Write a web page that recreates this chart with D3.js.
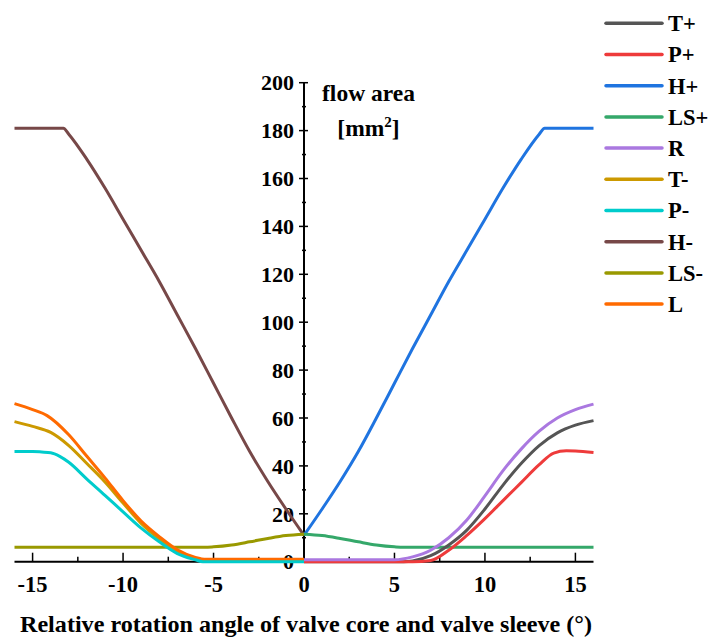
<!DOCTYPE html>
<html>
<head>
<meta charset="utf-8">
<script src="https://cdn.jsdelivr.net/npm/d3@7"></script>
<style>
  body { margin: 0; background: #fff; }
</style>
</head>
<body>
<svg id="chart" width="709" height="638" style="font-family: 'Liberation Serif', 'Times New Roman', serif; font-weight: bold;"></svg>
<script>
// flow area [mm2] vs rotation angle as [angle, area]
var T_plus  = [[0,0],[5.5,0],[6,0.3],[7,2.5],[8,7],[9,13.2],[10,22],[11,32],[12,41],[13,48.5],[14,53.8],[15,57],[16,58.9]];
var P_plus  = [[0,0],[6,0],[7,0.5],[8,4.8],[9,11],[10,18],[11,25.5],[12,33],[13,40.5],[13.8,45.3],[14.5,46.3],[15,46.2],[16,45.6]];
var H_plus  = [[0,11],[1,22],[2,33.5],[3,46],[4,60],[5,74.5],[6,89],[7,103],[8,117],[9,130],[10,143],[11,156],[12,168],[13,178.5],[13.3,181],[16,181]];
var LS_plus = [[0,11.5],[1,10.9],[2,9.7],[3,8.3],[4,7],[5,6.2],[5.5,6],[16,6]];
var R       = [[0,0.8],[5,0.8],[6,2],[7,4.8],[8,10],[9,17.4],[10,27.5],[11,38],[12,47],[13,54.5],[14,60],[15,63.5],[16,65.8]];
var T_minus = [[-16,58.5],[-15,56.5],[-14,54],[-13,48.5],[-12,41],[-11,33.3],[-10,24.5],[-9,16],[-8,9.5],[-7,4.5],[-6,1.5],[-5.4,0.6],[0,0.6]];
var P_minus = [[-16,46],[-15,46],[-14.5,45.8],[-14,45.5],[-13.5,44],[-13,41.5],[-12,34.5],[-11,27.7],[-10,20.8],[-9,14],[-8,8.3],[-7,3.4],[-6,0.8],[-5.6,0],[0,0]];
var H_minus = [[-16,181],[-13.3,181],[-13,178.5],[-12,168],[-11,156],[-10,143],[-9,130],[-8,117],[-7,103],[-6,89],[-5,74.5],[-4,60],[-3,46],[-2,33.5],[-1,22],[0,11]];
var LS_minus= [[-16,6],[-5.5,6],[-5,6.2],[-4,7],[-3,8.3],[-2,9.7],[-1,10.9],[0,11.5]];
var L       = [[-16,66],[-15,63.5],[-14.2,61],[-13,53],[-12,44],[-11,35],[-10,25.5],[-9,17],[-8,10.5],[-7,5],[-6,1.8],[-5.4,1],[0,1]];

var names  = ["T+", "P+", "H+", "LS+", "R", "T-", "P-", "H-", "LS-", "L"];
var values = [T_plus, P_plus, H_plus, LS_plus, R, T_minus, P_minus, H_minus, LS_minus, L];
var colors = ["#555555", "#ee3b3b", "#1f74e0", "#35a86a", "#aa78e0", "#cc9900", "#00cccc", "#774848", "#999900", "#ff6a00"];

var xTicks = [-15, -10, -5, 0, 5, 10, 15];
var yTicks = [0, 20, 40, 60, 80, 100, 120, 140, 160, 180, 200];

var svg = d3.select("#chart");

var x = d3.scaleLinear().domain([-16, 16]).range([14.5, 593.5]);
var y = d3.scaleLinear().domain([0, 200]).range([561.7, 82.7]);

// x axis along the zero line, ticks pointing up
var xAxis = svg.append("g");
xAxis.append("line")
  .attr("x1", x(-16)).attr("x2", x(16))
  .attr("y1", y(0)).attr("y2", y(0))
  .attr("stroke", "#000").attr("stroke-width", 2);

xAxis.selectAll(".minor")
  .data(d3.range(-15, 16, 2.5))
  .enter().append("line")
  .attr("x1", function(d) { return x(d); })
  .attr("x2", function(d) { return x(d); })
  .attr("y1", y(0))
  .attr("y2", function(d) { return d % 5 === 0 ? y(0) - 9 : y(0) - 5; })
  .attr("stroke", "#000").attr("stroke-width", 1.5);

xAxis.selectAll(".xlab")
  .data(xTicks)
  .enter().append("text")
  .attr("x", function(d) { return x(d); })
  .attr("y", 592)
  .attr("text-anchor", "middle")
  .attr("font-size", 22.5)
  .text(function(d) { return d; });

// y axis sits at angle 0
var yAxis = svg.append("g");
yAxis.append("line")
  .attr("x1", x(0)).attr("x2", x(0))
  .attr("y1", y(0)).attr("y2", y(200))
  .attr("stroke", "#000").attr("stroke-width", 2);

yAxis.selectAll(".ytick")
  .data(d3.range(0, 201, 10))
  .enter().append("line")
  .attr("x1", function(d) { return d % 20 === 0 ? x(0) - 5 : x(0) - 2; })
  .attr("x2", function(d) { return d % 20 === 0 ? x(0) + 4 : x(0) + 2; })
  .attr("y1", function(d) { return y(d); })
  .attr("y2", function(d) { return y(d); })
  .attr("stroke", "#000").attr("stroke-width", 1.5);

yAxis.selectAll(".ylab")
  .data(yTicks)
  .enter().append("text")
  .attr("x", x(0) - 10)
  .attr("y", function(d) { return y(d); })
  .attr("dy", "0.35em")
  .attr("text-anchor", "end")
  .attr("font-size", 22)
  .text(function(d) { return d; });

// axis titles
svg.append("text")
  .attr("x", 368.5).attr("y", 101)
  .attr("text-anchor", "middle")
  .attr("font-size", 23.5)
  .text("flow area");

var unit = svg.append("text")
  .attr("x", 368.5).attr("y", 136)
  .attr("text-anchor", "middle")
  .attr("font-size", 23.5);
unit.append("tspan").text("[mm");
unit.append("tspan").attr("dy", -9).attr("font-size", 15).text("2");
unit.append("tspan").attr("dy", 9).text("]");

svg.append("text")
  .attr("x", 306).attr("y", 632)
  .attr("text-anchor", "middle")
  .attr("font-size", 23.5)
  .attr("textLength", 572)
  .attr("lengthAdjust", "spacingAndGlyphs")
  .text("Relative rotation angle of valve core and valve sleeve (°)");

// curves
var line = d3.line()
  .x(function(d) { return x(d[0]); })
  .y(function(d) { return y(d[1]); })
  .curve(d3.curveMonotoneX);

var order = [7, 2, 8, 3, 5, 9, 6, 0, 1, 4];
svg.append("g").selectAll("path")
  .data(order)
  .enter().append("path")
  .attr("d", function(i) { return line(values[i]); })
  .attr("fill", "none")
  .attr("stroke", function(i) { return colors[i]; })
  .attr("stroke-width", 3)
  .attr("stroke-linejoin", "round");

// legend
var legend = svg.append("g").selectAll("g")
  .data(names)
  .enter().append("g")
  .attr("transform", function(d, i) { return "translate(0," + (23.3 + i * 31.2) + ")"; });

legend.append("line")
  .attr("x1", 606).attr("x2", 662)
  .attr("stroke", function(d, i) { return colors[i]; })
  .attr("stroke-width", 3.5)
  .attr("stroke-linecap", "round");

legend.append("text")
  .attr("x", 668)
  .attr("dy", "0.35em")
  .attr("font-size", 22.5)
  .text(function(d) { return d; });
</script>
</body>
</html>
